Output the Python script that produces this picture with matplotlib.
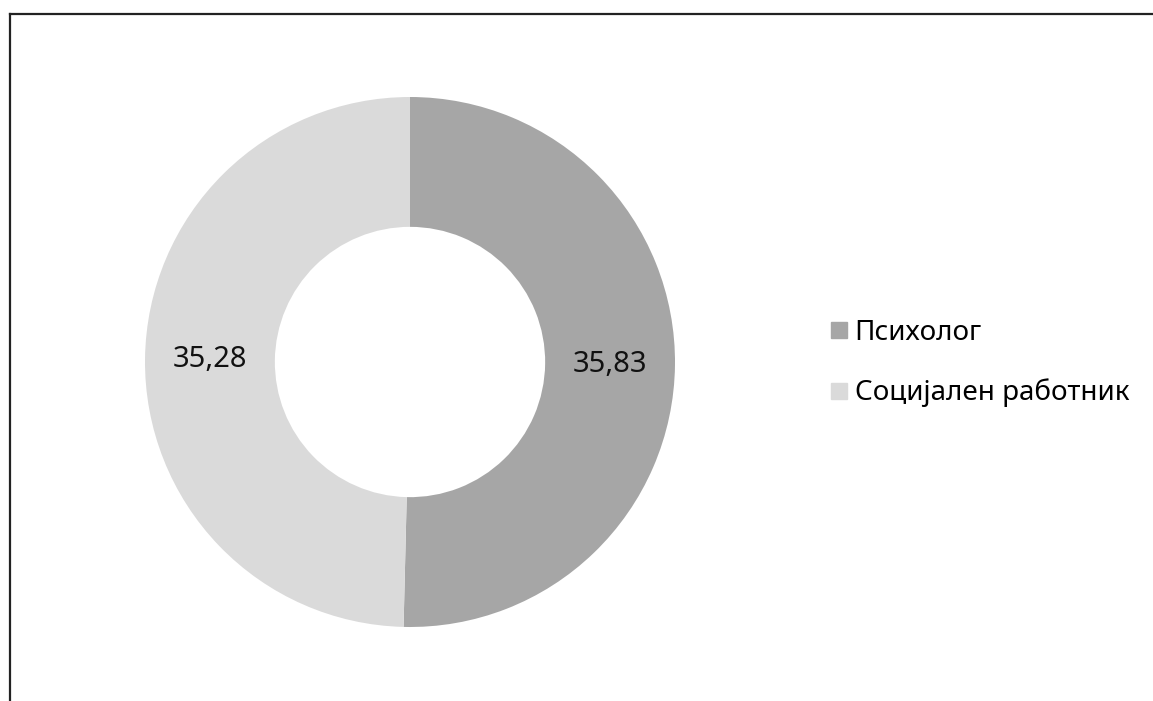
import matplotlib
matplotlib.use('Agg')
import matplotlib.pyplot as plt
from matplotlib.lines import Line2D

# Donut values
categories = ['Психолог', 'Социјален работник']
values = [35.83, 35.28]
colors = ['#a6a6a6', '#dadada']

plt.rcParams['font.family'] = ['Noto Sans', 'DejaVu Sans']

W, H = 1153, 701
fig = plt.figure(figsize=(W / 100, H / 100), dpi=100)

# donut: centre (410, 362) px, outer radius 265 px
cx, cy, r = 410, 362, 265
ax = fig.add_axes([(cx - r) / W, (H - cy - r) / H, 2 * r / W, 2 * r / H])

total = sum(values)
wedges, texts, autotexts = ax.pie(
    values, colors=colors, startangle=90, counterclock=False, radius=1.0,
    wedgeprops=dict(width=0.49, linewidth=0),
    autopct=lambda p: f'{p * total / 100:.2f}'.replace('.', ','),
    pctdistance=0.755,
    textprops=dict(fontsize=21, color='#111111'))
ax.set_xlim(-1, 1)
ax.set_ylim(-1, 1)
ax.set_aspect('equal')
ax.axis('off')

# legend on the right
handles = [Line2D([], [], marker='s', linestyle='none', markersize=11,
                  markerfacecolor=c, markeredgecolor=c) for c in colors]
fig.legend(handles, categories, loc='center left',
           bbox_to_anchor=(820 / W, 1 - 363 / H), frameon=False,
           fontsize=20, handlelength=0.6, handletextpad=0.25,
           labelspacing=1.15, borderaxespad=0)

# chart frame (top and left edges visible)
x0, y0 = 9.5 / W, 1 - 14 / H
fig.add_artist(Line2D([x0, 1.0], [y0, y0], color='#222222', lw=1.6))
fig.add_artist(Line2D([x0, x0], [y0, 0.0], color='#222222', lw=1.6))

fig.savefig('out.png', dpi=100, facecolor='white')
